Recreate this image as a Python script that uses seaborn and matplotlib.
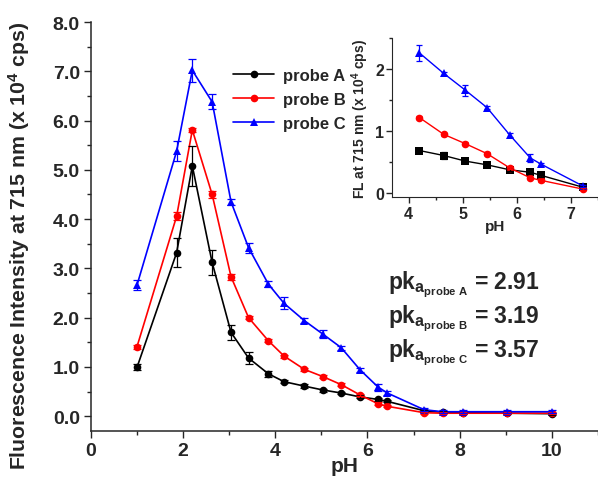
import numpy as np
import matplotlib
matplotlib.use("Agg")
import matplotlib.pyplot as plt
from matplotlib.ticker import MultipleLocator, FormatStrFormatter
import pandas as pd
import seaborn as sns

# ── Data ──────────────────────────────────────────────────────────────────────
PH = [1.0, 1.86, 2.2, 2.63, 3.04, 3.42, 3.85, 4.19, 4.63, 5.04,
      5.43, 5.84, 6.23, 6.43, 7.23, 7.63, 8.07, 9.03, 10.0]
PROBE_A = [0.99, 3.32, 5.08, 3.12, 1.70, 1.18, 0.86, 0.70, 0.61, 0.53,
           0.47, 0.39, 0.34, 0.30, 0.11, 0.08, 0.07, 0.06, 0.05]
PROBE_B = [1.41, 4.06, 5.81, 4.50, 2.83, 2.00, 1.53, 1.22, 0.95, 0.80,
           0.64, 0.43, 0.25, 0.20, 0.07, 0.06, 0.06, 0.06, 0.06]
PROBE_C = [2.66, 5.38, 7.02, 6.38, 4.35, 3.42, 2.68, 2.29, 1.94, 1.66,
           1.39, 0.94, 0.59, 0.47, 0.13, 0.09, 0.09, 0.09, 0.09]
ERR_A = [0.06, 0.30, 0.40, 0.25, 0.15, 0.12, 0.06, 0.03, 0.04, 0.03,
         0.03, 0.03, 0.03, 0.02, 0.02, 0.02, 0.02, 0.02, 0.02]
ERR_B = [0.04, 0.08, 0.04, 0.08, 0.06, 0.03, 0.03, 0.03, 0.03, 0.03,
         0.03, 0.03, 0.03, 0.02, 0.02, 0.02, 0.02, 0.02, 0.02]
ERR_C = [0.10, 0.20, 0.23, 0.15, 0.06, 0.10, 0.06, 0.12, 0.05, 0.08,
         0.04, 0.04, 0.07, 0.04, 0.03, 0.03, 0.03, 0.03, 0.03]

PH_IN = [4.2, 4.65, 5.05, 5.45, 5.87, 6.25, 6.45, 7.22]
IN_A = [0.69, 0.61, 0.52, 0.46, 0.38, 0.34, 0.29, 0.10]
IN_B = [1.22, 0.95, 0.80, 0.64, 0.41, 0.25, 0.21, 0.07]
IN_C = [2.26, 1.93, 1.66, 1.38, 0.94, 0.57, 0.47, 0.12]
IN_ERR_A = [0.02, 0.06, 0.03, 0.02, 0.02, 0.02, 0.02, 0.02]
IN_ERR_B = [0.02, 0.02, 0.02, 0.02, 0.02, 0.02, 0.02, 0.02]
IN_ERR_C = [0.13, 0.03, 0.09, 0.03, 0.03, 0.06, 0.02, 0.02]

LABELS = ["probe A", "probe B", "probe C"]
PKA = ["2.91", "3.19", "3.57"]
COLORS = {"probe A": "black", "probe B": "#ff0000", "probe C": "#0000ff"}

# ── Style ─────────────────────────────────────────────────────────────────────
sns.set_style("ticks")
plt.rcParams["font.family"] = ["Liberation Sans", "DejaVu Sans"]
plt.rcParams["font.weight"] = "bold"
plt.rcParams["mathtext.fontset"] = "custom"
plt.rcParams["mathtext.rm"] = "Liberation Sans:bold"
plt.rcParams["mathtext.bf"] = "Liberation Sans:bold"
plt.rcParams["mathtext.it"] = "Liberation Sans:bold"

fig = plt.figure(figsize=(5.98, 4.81), dpi=100)
ax = fig.add_axes([0.152, 0.102, 0.848, 0.850])

main_df = pd.DataFrame({
    "pH": PH * 3,
    "FL": PROBE_A + PROBE_B + PROBE_C,
    "err": ERR_A + ERR_B + ERR_C,
    "probe": [l for l in LABELS for _ in PH],
})
sns.lineplot(data=main_df, x="pH", y="FL", hue="probe", style="probe",
             palette=COLORS, markers={"probe A": "o", "probe B": "o", "probe C": "^"},
             dashes=False, markersize=5.5, markeredgewidth=0, linewidth=1.2,
             ax=ax, legend=True)
for lab in LABELS:
    sub = main_df[main_df["probe"] == lab]
    ax.errorbar(sub["pH"], sub["FL"], yerr=sub["err"], fmt="none",
                ecolor=COLORS[lab], elinewidth=0.9, capsize=3, capthick=0.9)

ax.set_xlim(0, 11)
ax.set_ylim(-0.3, 8.0)
ax.xaxis.set_major_locator(MultipleLocator(2))
ax.xaxis.set_minor_locator(MultipleLocator(1))
ax.yaxis.set_major_locator(MultipleLocator(1))
ax.yaxis.set_minor_locator(MultipleLocator(0.5))
ax.yaxis.set_major_formatter(FormatStrFormatter("%.1f"))
ax.set_xticks([0, 2, 4, 6, 8, 10])
ax.tick_params(axis="both", which="major", direction="out", length=5, width=1,
               labelsize=14, pad=3)
ax.tick_params(axis="both", which="minor", direction="out", length=3, width=1)
for t in ax.get_xticklabels() + ax.get_yticklabels():
    t.set_fontweight("bold")
sns.despine(ax=ax)
for s in ("left", "bottom"):
    ax.spines[s].set_linewidth(1.1)
ax.set_xlabel("pH", fontsize=15, fontweight="bold", labelpad=-2)
ax.set_ylabel(r"Fluorescence Intensity at 715 nm (x 10$^{4}$ cps)",
              fontsize=15.3, fontweight="bold")
ax.yaxis.set_label_coords(-0.117, 0.455)

leg = ax.legend(loc="upper left", bbox_to_anchor=(0.25, 0.925), frameon=False,
                handlelength=2.5, handletextpad=0.5, labelspacing=0.55,
                prop={"size": 12, "weight": "bold"})

for i, (lab, pk) in enumerate(zip(LABELS, PKA)):
    ax.text(6.44, 2.60 - 0.69 * i,
            r"pk$_{\mathbf{a}_{\mathbf{" + lab.replace(" ", r"\ ") + r"}}}$ = " + pk,
            fontsize=16.5, fontweight="bold", ha="left", va="baseline")

# ── Inset ─────────────────────────────────────────────────────────────────────
ins = fig.add_axes([0.656, 0.588, 0.344, 0.331])
in_df = pd.DataFrame({
    "pH": PH_IN * 3,
    "FL": IN_A + IN_B + IN_C,
    "err": IN_ERR_A + IN_ERR_B + IN_ERR_C,
    "probe": [l for l in LABELS for _ in PH_IN],
})
sns.lineplot(data=in_df, x="pH", y="FL", hue="probe", style="probe",
             palette=COLORS, markers={"probe A": "s", "probe B": "o", "probe C": "^"},
             dashes=False, markersize=5.5, markeredgewidth=0, linewidth=1.0,
             ax=ins, legend=False)
for lab in LABELS:
    sub = in_df[in_df["probe"] == lab]
    ins.errorbar(sub["pH"], sub["FL"], yerr=sub["err"], fmt="none",
                 ecolor=COLORS[lab], elinewidth=0.9, capsize=2.5, capthick=0.9)
ins.set_xlim(3.7, 7.5)
ins.set_ylim(-0.06, 2.5)
ins.xaxis.set_major_locator(MultipleLocator(1))
ins.xaxis.set_minor_locator(MultipleLocator(0.5))
ins.yaxis.set_major_locator(MultipleLocator(1))
ins.yaxis.set_minor_locator(MultipleLocator(0.5))
ins.tick_params(axis="both", which="major", direction="out", length=4, width=1,
                labelsize=11.5, pad=2)
ins.tick_params(axis="both", which="minor", direction="out", length=2.5, width=1)
for t in ins.get_xticklabels() + ins.get_yticklabels():
    t.set_fontweight("bold")
sns.despine(ax=ins)
ins.patch.set_alpha(0)
ins.set_xlabel("pH", fontsize=11, fontweight="bold", labelpad=-1)
ins.set_ylabel(r"FL at 715 nm (x 10$^{4}$ cps)", fontsize=10, fontweight="bold",
               labelpad=3)

fig.savefig("out.png", dpi=100)
